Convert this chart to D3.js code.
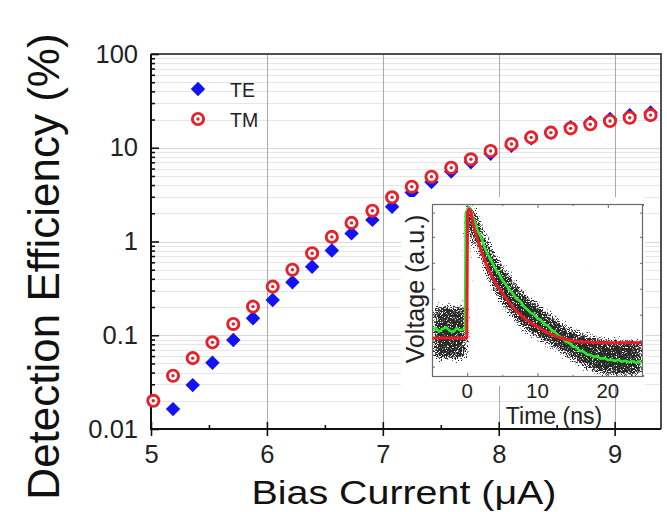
<!DOCTYPE html>
<html>
<head>
<meta charset="utf-8">
<script src="https://cdn.jsdelivr.net/npm/d3@7"></script>
<style>
  body { margin: 0; background: #fff; }
  svg { display: block; }
  text { font-family: "Liberation Sans", Arial, sans-serif; }
</style>
</head>
<body>
<svg id="chart" width="667" height="512"></svg>
<script>
// ---- Main panel: detection efficiency vs bias current ----
const biasCurrent = [5.02, 5.19, 5.36, 5.53, 5.71, 5.88, 6.05, 6.22, 6.39, 6.56, 6.73, 6.91, 7.08,
                     7.25, 7.42, 7.59, 7.76, 7.93, 8.11, 8.28, 8.45, 8.62, 8.79, 8.96, 9.13, 9.31];
const effTE = [null, 0.0163, 0.0294, 0.051, 0.089, 0.152, 0.238, 0.367, 0.538, 0.80, 1.22, 1.70, 2.35,
               3.34, 4.31, 5.59, 7.0, 8.64, 10.5, 12.6, 14.5, 16.6, 18.6, 20.3, 22.2, 23.8];
const effTM = [0.020, 0.037, 0.057, 0.084, 0.132, 0.202, 0.33, 0.50, 0.75, 1.12, 1.58, 2.13, 2.96,
               3.84, 4.91, 6.12, 7.53, 9.23, 10.96, 12.9, 14.5, 16.1, 17.8, 19.3, 20.9, 22.3];
const seriesNames = ["TE", "TM"];
const xTickValues = [5, 6, 7, 8, 9];
const xTickLabels = ["5", "6", "7", "8", "9"];
const xMinorTicks = [5.5, 6.5, 7.5, 8.5];
const yTickValues = [0.01, 0.1, 1, 10, 100];
const yTickLabels = ["0.01", "0.1", "1", "10", "100"];
const xTitle = "Bias Current (\u03bcA)";
const yTitle = "Detection Efficiency (%)";

// ---- Inset: single-photon voltage pulse ----
const insetTimeTicks = [0, 10, 20];
const insetTimeMinor = [-5, 5, 15, 25];
const insetTimeLabels = ["0", "10", "20"];
const insetVoltTicks = [0.06, 0.21, 0.36, 0.51, 0.66, 0.81, 0.95];
const insetXTitle = "Time (ns)";
const insetYTitle = "Voltage (a.u.)";

// fitted pulse (red)
const fitTime = [-5, -0.05, 0.05, 0.3, 1, 2, 3, 4, 5, 6, 7, 8, 9, 10, 11, 12, 13, 14, 15, 16, 18, 20, 22, 25];
const fitVolt = [0.225, 0.225, 0.95, 0.97, 0.86, 0.73, 0.625, 0.545, 0.485, 0.43, 0.38, 0.345, 0.315,
                 0.29, 0.265, 0.245, 0.23, 0.218, 0.21, 0.205, 0.2, 0.198, 0.198, 0.2];
// averaged trace (green)
const avgTime = [-5, -4.5, -4, -3.5, -3, -2.5, -2, -1.5, -1, -0.5, -0.3, -0.2, 0.3, 0.7, 1, 1.5, 2, 2.5, 3,
                 3.5, 4, 4.5, 5, 5.5, 6, 6.5, 7, 7.5, 8, 8.5, 9, 9.5, 10, 10.5, 11, 11.5, 12, 12.5, 13,
                 13.5, 14, 14.5, 15, 15.5, 16, 16.5, 17, 17.5, 18, 18.5, 19, 19.5, 20, 20.5, 21, 21.5,
                 22, 22.5, 23, 23.5, 24, 24.5, 25];
const avgVolt = [0.27, 0.285, 0.262, 0.278, 0.288, 0.268, 0.26, 0.282, 0.27, 0.276, 0.272, 0.95, 0.98, 0.935,
                 0.905, 0.845, 0.805, 0.745, 0.705, 0.665, 0.625, 0.598, 0.56, 0.535, 0.505, 0.482, 0.452,
                 0.44, 0.41, 0.392, 0.372, 0.362, 0.338, 0.328, 0.305, 0.296, 0.27, 0.258, 0.238, 0.228,
                 0.205, 0.198, 0.178, 0.172, 0.152, 0.148, 0.132, 0.128, 0.118, 0.118, 0.106, 0.11, 0.098,
                 0.1, 0.092, 0.1, 0.088, 0.094, 0.085, 0.092, 0.082, 0.09, 0.08];
// envelope of the raw single-shot samples (grey cloud)
const cloudTime = [-5, -4, -3, -2, -1, -0.4, -0.25, 0.1, 0.35, 1, 2, 3, 4, 5, 6, 7, 8, 9, 10, 11, 12, 13,
                   14, 15, 16, 17, 18, 19, 20, 21, 25];
const cloudHigh = [0.41, 0.42, 0.41, 0.42, 0.41, 0.41, 0.99, 1.0, 1.0, 0.99, 0.90, 0.80, 0.72, 0.66, 0.60,
                   0.55, 0.50, 0.465, 0.43, 0.40, 0.365, 0.335, 0.305, 0.285, 0.265, 0.25, 0.24, 0.23,
                   0.225, 0.22, 0.22];
const cloudLow = [0.10, 0.09, 0.10, 0.09, 0.10, 0.10, 0.10, 0.10, 0.85, 0.77, 0.65, 0.55, 0.47, 0.41,
                  0.355, 0.305, 0.27, 0.24, 0.215, 0.19, 0.165, 0.145, 0.115, 0.09, 0.065, 0.04, 0.025, 0.01,
                  0.0, 0.0, 0.0];

const BLUE = "#1212f2", RED = "#e4222b";

const svg = d3.select("#chart");
svg.append("rect").attr("width", 667).attr("height", 512).attr("fill", "#fff");

const plot = { left: 151, right: 661, top: 54, bottom: 429 };
const x = d3.scaleLinear().domain([5, 9.4]).range([plot.left, plot.right]);
const y = d3.scaleLog().domain([0.01, 100]).range([plot.bottom, plot.top]);

// minor log ticks 2..9 within each decade
const yMinor = [];
yTickValues.slice(0, -1).forEach(d => {
  for (let k = 2; k <= 9; k++) yMinor.push(+(d * k).toPrecision(3));
});

// grid
const grid = svg.append("g");
grid.selectAll("line.hminor").data(yMinor).join("line")
  .attr("x1", plot.left).attr("x2", plot.right)
  .attr("y1", d => Math.round(y(d)) + 0.5).attr("y2", d => Math.round(y(d)) + 0.5)
  .attr("stroke", "#e6e6e6").attr("stroke-width", 1);
grid.selectAll("line.hmajor").data(yTickValues.slice(1, -1)).join("line")
  .attr("x1", plot.left).attr("x2", plot.right)
  .attr("y1", d => Math.round(y(d)) + 0.5).attr("y2", d => Math.round(y(d)) + 0.5)
  .attr("stroke", "#d8d8d8").attr("stroke-width", 1);
grid.selectAll("line.v").data(xTickValues.slice(1)).join("line")
  .attr("x1", d => Math.round(x(d)) + 0.5).attr("x2", d => Math.round(x(d)) + 0.5)
  .attr("y1", plot.top).attr("y2", plot.bottom)
  .attr("stroke", "#a9a9a9").attr("stroke-width", 1);

// frame (top and right)
svg.append("path")
  .attr("d", `M${plot.left},${plot.top}H${plot.right}V${plot.bottom}`)
  .attr("fill", "none").attr("stroke", "#505050").attr("stroke-width", 2);

// axes
function styleAxis(g, size) {
  g.attr("font-family", '"Liberation Sans", Arial, sans-serif').attr("font-size", size);
  g.select(".domain").remove();
  g.selectAll(".tick line").attr("stroke", "#111").attr("stroke-width", 1.6);
  g.selectAll(".tick text").attr("fill", "#222");
}
const yAxis = svg.append("g").attr("transform", `translate(${plot.left},0)`)
  .call(d3.axisLeft(y).tickValues(yTickValues).tickFormat((d, i) => yTickLabels[i])
    .tickSizeInner(-8).tickSizeOuter(0).tickPadding(13));
styleAxis(yAxis, 25.5);
const yAxisMinor = svg.append("g").attr("transform", `translate(${plot.left},0)`)
  .call(d3.axisLeft(y).tickValues(yMinor).tickFormat("").tickSizeInner(-4).tickSizeOuter(0));
styleAxis(yAxisMinor, 10);

const xAxis = svg.append("g").attr("transform", `translate(0,${plot.bottom})`)
  .call(d3.axisBottom(x).tickValues(xTickValues).tickFormat((d, i) => xTickLabels[i])
    .tickSizeInner(7).tickSizeOuter(0).tickPadding(9));
styleAxis(xAxis, 25.5);
const xAxisIn = svg.append("g").attr("transform", `translate(0,${plot.bottom})`)
  .call(d3.axisBottom(x).tickValues(xTickValues).tickFormat("").tickSizeInner(-7).tickSizeOuter(0));
styleAxis(xAxisIn, 10);
const xAxisMinor = svg.append("g").attr("transform", `translate(0,${plot.bottom})`)
  .call(d3.axisBottom(x).tickValues(xMinorTicks).tickFormat("").tickSizeInner(-4).tickSizeOuter(0));
styleAxis(xAxisMinor, 10);

// left and bottom axis lines
svg.append("path")
  .attr("d", `M${plot.left},${plot.top}V${plot.bottom}H${plot.right}`)
  .attr("fill", "none").attr("stroke", "#111").attr("stroke-width", 2);

// axis titles
svg.append("text")
  .attr("x", 251.5).attr("y", 504)
  .attr("font-size", 34).attr("fill", "#111")
  .attr("textLength", 305).attr("lengthAdjust", "spacingAndGlyphs")
  .text(xTitle);
svg.append("text")
  .attr("transform", "translate(58.5,266.5) rotate(-90)")
  .attr("text-anchor", "middle").attr("font-size", 44).attr("fill", "#111")
  .text(yTitle);

// markers
const diamond = d3.symbol().type(d3.symbolSquare).size(104);
function drawTE(sel) {
  sel.append("path").attr("d", diamond()).attr("fill", BLUE).attr("transform", "rotate(45)");
}
function drawTM(sel) {
  sel.append("circle").attr("r", 5.6).attr("fill", "#fff").attr("stroke", RED).attr("stroke-width", 2.9);
  sel.append("circle").attr("r", 1.7).attr("fill", RED);
}

const teData = biasCurrent.map((b, i) => ({ b, v: effTE[i] })).filter(d => d.v != null);
const tmData = biasCurrent.map((b, i) => ({ b, v: effTM[i] })).filter(d => d.v != null);

svg.append("g").selectAll("g").data(teData).join("g")
  .attr("transform", d => `translate(${x(d.b)},${y(d.v)})`)
  .call(drawTE);
svg.append("g").selectAll("g").data(tmData).join("g")
  .attr("transform", d => `translate(${x(d.b)},${y(d.v)})`)
  .call(drawTM);

// legend
const legend = svg.append("g");
const legRows = [{ name: seriesNames[0], draw: drawTE, cy: 89 }, { name: seriesNames[1], draw: drawTM, cy: 119 }];
legRows.forEach(r => {
  legend.append("g").attr("transform", `translate(198,${r.cy})`).call(r.draw);
  legend.append("text").attr("x", 230).attr("y", r.cy + 7.5)
    .attr("font-size", 19.5).attr("fill", "#222").text(r.name);
});

// ---- inset ----
const ins = { left: 432, right: 643, top: 204, bottom: 377 };
svg.append("rect").attr("x", 401).attr("y", 197).attr("width", 244).attr("height", 189).attr("fill", "#fff");

const tx = d3.scaleLinear().domain([-5, 25]).range([ins.left, ins.right]);
const vy = d3.scaleLinear().domain([0, 1]).range([ins.bottom, ins.top]);

const defs = svg.append("defs");
defs.append("clipPath").attr("id", "insClip").append("rect")
  .attr("x", ins.left).attr("y", ins.top).attr("width", ins.right - ins.left).attr("height", ins.bottom - ins.top);

// speckle texture for the sample cloud: denser in the middle, sparse at the edges
const f = defs.append("filter").attr("id", "speckle").attr("filterUnits", "userSpaceOnUse")
  .attr("x", ins.left).attr("y", ins.top).attr("width", ins.right - ins.left).attr("height", ins.bottom - ins.top)
  .attr("color-interpolation-filters", "sRGB");
f.append("feTurbulence").attr("type", "fractalNoise").attr("baseFrequency", 0.8)
  .attr("numOctaves", 2).attr("seed", 7).attr("result", "noise");
f.append("feColorMatrix").attr("in", "noise").attr("type", "matrix")
  .attr("values", "0 0 0 0 0  0 0 0 0 0  0 0 0 0 0  1 0 0 0 0").attr("result", "nA");
f.append("feGaussianBlur").attr("in", "SourceAlpha").attr("stdDeviation", 4).attr("result", "bA");
f.append("feComposite").attr("in", "bA").attr("in2", "nA").attr("operator", "arithmetic")
  .attr("k1", 0).attr("k2", 6).attr("k3", -10).attr("k4", 1.0).attr("result", "mask");
f.append("feFlood").attr("flood-color", "#2a2a2a").attr("result", "ink");
f.append("feComposite").attr("in", "ink").attr("in2", "mask").attr("operator", "in");

const insetG = svg.append("g").attr("clip-path", "url(#insClip)");
const cloud = cloudTime.map((t, i) => ({ t, hi: cloudHigh[i], lo: cloudLow[i] }));
insetG.append("path").datum(cloud)
  .attr("d", d3.area().x(d => tx(d.t)).y0(d => vy(d.lo)).y1(d => vy(d.hi)).curve(d3.curveMonotoneX))
  .attr("fill", "#000").attr("filter", "url(#speckle)");

insetG.append("path").datum(avgTime.map((t, i) => [t, avgVolt[i]]))
  .attr("d", d3.line().x(d => tx(d[0])).y(d => vy(d[1])))
  .attr("fill", "none").attr("stroke", "#27ec2a").attr("stroke-width", 2.6).attr("stroke-linejoin", "round");
insetG.append("path").datum(fitTime.map((t, i) => [t, fitVolt[i]]))
  .attr("d", d3.line().x(d => tx(d[0])).y(d => vy(d[1])).curve(d3.curveMonotoneX))
  .attr("fill", "none").attr("stroke", "#ec1c24").attr("stroke-width", 3).attr("stroke-linejoin", "round");

// inset frame and inward ticks on all sides
svg.append("rect").attr("x", ins.left + 0.5).attr("y", ins.top + 0.5)
  .attr("width", ins.right - ins.left - 1).attr("height", ins.bottom - ins.top - 1)
  .attr("fill", "none").attr("stroke", "#6a6a6a").attr("stroke-width", 1.2);
function insetAxis(axisFn, scale, vals, size, tr) {
  const g = svg.append("g").attr("transform", tr)
    .call(axisFn(scale).tickValues(vals).tickFormat("").tickSizeInner(-size).tickSizeOuter(0));
  g.select(".domain").remove();
  g.selectAll(".tick line").attr("stroke", "#6a6a6a").attr("stroke-width", 1);
}
insetAxis(d3.axisBottom, tx, insetTimeTicks, 4, `translate(0,${ins.bottom})`);
insetAxis(d3.axisBottom, tx, insetTimeMinor, 2, `translate(0,${ins.bottom})`);
insetAxis(d3.axisTop, tx, insetTimeTicks, 4, `translate(0,${ins.top})`);
insetAxis(d3.axisTop, tx, insetTimeMinor, 2, `translate(0,${ins.top})`);
insetAxis(d3.axisLeft, vy, insetVoltTicks, 3, `translate(${ins.left},0)`);
insetAxis(d3.axisRight, vy, insetVoltTicks, 3, `translate(${ins.right},0)`);

svg.append("g").selectAll("text").data(insetTimeTicks).join("text")
  .attr("x", d => tx(d)).attr("y", 398).attr("text-anchor", "middle")
  .attr("font-size", 20.5).attr("fill", "#222")
  .text((d, i) => insetTimeLabels[i]);
svg.append("text").attr("x", 554).attr("y", 423.5).attr("text-anchor", "middle")
  .attr("font-size", 23).attr("fill", "#222").text(insetXTitle);
svg.append("text").attr("transform", "translate(424,289) rotate(-90)")
  .attr("text-anchor", "middle").attr("font-size", 25).attr("fill", "#222").text(insetYTitle);
</script>
</body>
</html>
